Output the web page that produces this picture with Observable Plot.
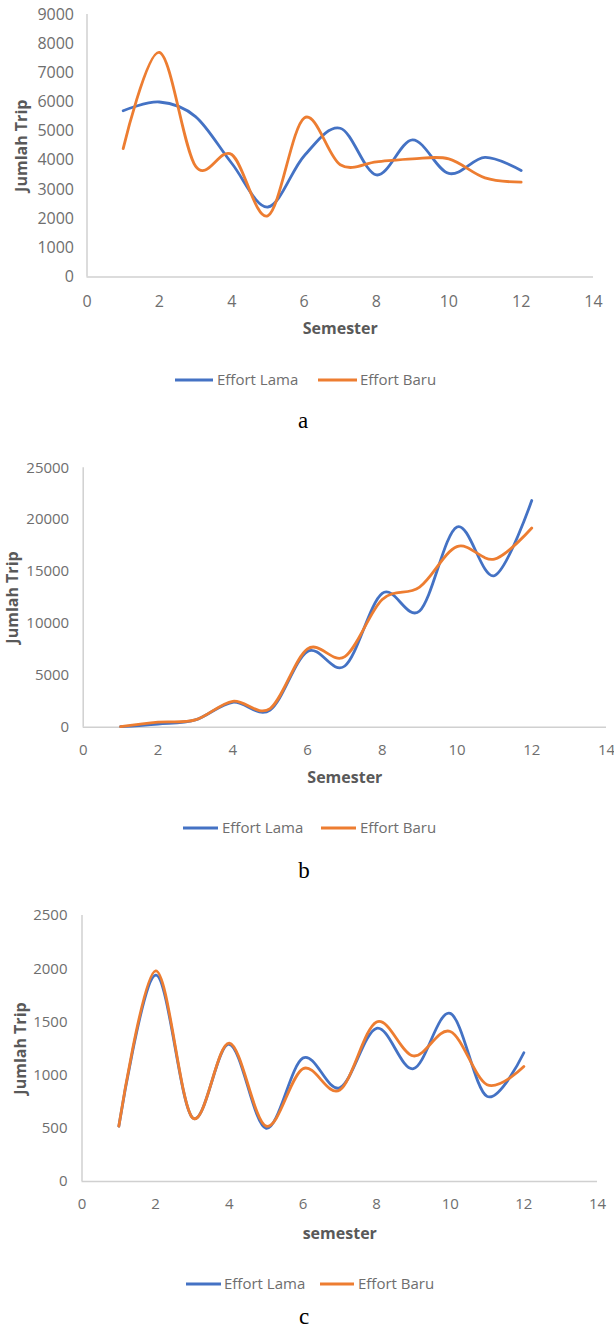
<!DOCTYPE html>
<html><head><meta charset="utf-8">
<script src="https://cdn.jsdelivr.net/npm/d3@7"></script>
<script src="https://cdn.jsdelivr.net/npm/@observablehq/plot@0.6"></script>
<style>
html,body{margin:0;padding:0;background:#fff;}
#page{position:relative;width:614px;height:1330px;overflow:hidden;font-family:"Open Sans",sans-serif;}
.chart{position:absolute;left:0;}
.chart svg{overflow:visible;}
.sw{position:absolute;height:3px;transform:translateY(-50%);}
.lt{position:absolute;color:#6e6e6e;white-space:nowrap;line-height:1;transform:translateY(-55%);}
.cap{position:absolute;font-family:"Liberation Serif",serif;font-size:23px;color:#000;transform:translate(-50%,-50%);line-height:1;}
</style></head><body><div id="page"></div>
<script>
// ---- data ----
const semesters = [1, 2, 3, 4, 5, 6, 7, 8, 9, 10, 11, 12];
const seriesNames = ["Effort Lama", "Effort Baru"];
const seriesColors = ["#4472C4", "#ED7D31"];
const xTicks = [0, 2, 4, 6, 8, 10, 12, 14];

const aLama = [5700, 6000, 5500, 3900, 2400, 4150, 5100, 3500, 4700, 3550, 4100, 3650];
const aBaru = [4400, 7700, 3800, 4200, 2100, 5450, 3850, 3950, 4050, 4050, 3400, 3250];
const aYTicks = [0, 1000, 2000, 3000, 4000, 5000, 6000, 7000, 8000, 9000];

const bLama = [50, 300, 700, 2400, 1650, 7300, 5900, 12900, 11200, 19300, 14600, 21850];
const bBaru = [50, 480, 700, 2500, 1800, 7550, 6800, 12300, 13500, 17400, 16200, 19200];
const bYTicks = [0, 5000, 10000, 15000, 20000, 25000];

const cLama = [520, 1940, 600, 1290, 500, 1160, 880, 1440, 1060, 1580, 800, 1210];
const cBaru = [520, 1980, 600, 1300, 520, 1060, 860, 1500, 1180, 1410, 910, 1080];
const cYTicks = [0, 500, 1000, 1500, 2000, 2500];

const yTitle = "Jumlah Trip";
const captions = ["a", "b", "c"];

// ---- layout ----
const charts = [
  {lama: aLama, baru: aBaru, yTicks: aYTicks, xTitle: "Semester", caption: captions[0],
   top: 0, height: 345, mL: 86.5, mR: 21, frameTop: 14, frameBottom: 276.5,
   fs: 16, xPad: 19, yPad: 13, yTitleX: 21, xTitleY: 328,
   legY: 380, leg: [[175, 213, 217], [318, 357, 360]], capX: 303, capY: 420},
  {lama: bLama, baru: bBaru, yTicks: bYTicks, xTitle: "Semester", caption: captions[1],
   top: 440, height: 350, mL: 82.7, mR: 8, frameTop: 467.3, frameBottom: 726.7,
   fs: 15, xPad: 17, yPad: 14, yTitleX: 12, xTitleY: 777,
   legY: 828, leg: [[183, 218, 222], [321, 356, 360]], capX: 304, capY: 870},
  {lama: cLama, baru: cBaru, yTicks: cYTicks, xTitle: "semester", caption: captions[2],
   top: 890, height: 360, mL: 81.5, mR: 17, frameTop: 915, frameBottom: 1181,
   fs: 15, xPad: 17, yPad: 14.5, yTitleX: 20, xTitleY: 1233,
   legY: 1284, leg: [[186, 221, 224], [320, 354, 358]], capX: 304, capY: 1316}
];

const page = document.getElementById("page");

charts.forEach(cfg => {
  const rows = [];
  semesters.forEach((s, i) => {
    rows.push({semester: s, value: cfg.lama[i], series: seriesNames[0]});
    rows.push({semester: s, value: cfg.baru[i], series: seriesNames[1]});
  });
  const mT = cfg.frameTop - cfg.top;
  const mB = cfg.top + cfg.height - cfg.frameBottom;
  const plot = Plot.plot({
    width: 614,
    height: cfg.height,
    marginLeft: cfg.mL,
    marginRight: cfg.mR,
    marginTop: mT,
    marginBottom: mB,
    style: {fontFamily: "'Open Sans', sans-serif", fontSize: cfg.fs + "px", color: "#6e6e6e", background: "transparent"},
    x: {domain: [0, 14], ticks: xTicks, tickSize: 0, tickPadding: cfg.xPad, tickFormat: d => String(d), label: null},
    y: {domain: [0, d3.max(cfg.yTicks)], ticks: cfg.yTicks, tickSize: 0, tickPadding: cfg.yPad, tickFormat: d => String(d), label: null},
    color: {domain: seriesNames, range: seriesColors},
    marks: [
      Plot.ruleX([0], {stroke: "#d0d0d0", strokeWidth: 1.5}),
      Plot.ruleY([0], {stroke: "#d0d0d0", strokeWidth: 1.5}),
      Plot.lineY(rows, {x: "semester", y: "value", z: "series", stroke: "series", curve: "cardinal", strokeWidth: 2.8}),
      Plot.text([cfg.xTitle], {text: d => d, frameAnchor: "bottom", lineAnchor: "middle",
        dy: cfg.xTitleY - cfg.frameBottom, fontWeight: "bold", fontSize: 16, fill: "#595959"}),
      Plot.text([yTitle], {text: d => d, frameAnchor: "left", textAnchor: "middle", lineAnchor: "middle", rotate: -90,
        dx: cfg.yTitleX - cfg.mL, dy: 0, fontWeight: "bold", fontSize: 16, fill: "#595959"})
    ]
  });
  const holder = document.createElement("div");
  holder.className = "chart";
  holder.style.top = cfg.top + "px";
  holder.appendChild(plot);
  page.appendChild(holder);

  // legend
  seriesNames.forEach((name, i) => {
    const [x0, x1, tx] = cfg.leg[i];
    const sw = document.createElement("div");
    sw.className = "sw";
    sw.style.left = x0 + "px";
    sw.style.width = (x1 - x0) + "px";
    sw.style.top = cfg.legY + "px";
    sw.style.background = seriesColors[i];
    page.appendChild(sw);
    const t = document.createElement("div");
    t.className = "lt";
    t.style.left = tx + "px";
    t.style.top = cfg.legY + "px";
    t.style.fontSize = "15px";
    t.textContent = name;
    page.appendChild(t);
  });
  const cap = document.createElement("div");
  cap.className = "cap";
  cap.style.left = cfg.capX + "px";
  cap.style.top = cfg.capY + "px";
  cap.textContent = cfg.caption;
  page.appendChild(cap);
});
</script>
</body></html>
